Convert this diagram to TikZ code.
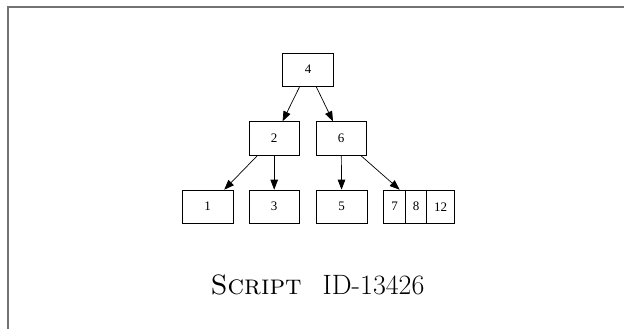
\documentclass[tikz,border=0pt]{standalone}
\usepackage{fontspec}
\newfontfamily\nodefont{Liberation Serif}
\usetikzlibrary{arrows.meta}
\begin{document}
\begin{tikzpicture}[x=1pt,y=-1pt,
  box/.style={draw=black,line width=0.7pt,minimum width=50.5pt,minimum height=33.3pt,inner sep=0pt,font=\nodefont\fontsize{13}{15}\selectfont},
  celltext/.style={inner sep=0pt,font=\nodefont\fontsize{13}{15}\selectfont},
  edge/.style={draw=black,line width=0.7pt,-{Triangle[length=10pt,width=7.5pt]}},
  frame/.style={draw={rgb,255:red,115;green,115;blue,115},line width=1.6pt}]
\useasboundingbox (0,0) rectangle (624,329);
\draw[frame] (8,340) -- (8,7) -- (640,7);
\node[box] (n4) at (308,69.7) {4};
\node[box] (n2) at (274.2,138.3) {2};
\node[box] (n6) at (341.2,138.3) {6};
\node[box] (n1) at (207.7,206.7) {1};
\node[box] (n3) at (274.2,206.7) {3};
\node[box] (n5) at (341.7,206.7) {5};
\node[box,minimum width=70.6pt] (rec) at (419,206.7) {};
\draw[line width=0.7pt] ([xshift=21.6pt]rec.north west) -- ([xshift=21.6pt]rec.south west);
\draw[line width=0.7pt] ([xshift=43pt]rec.north west) -- ([xshift=43pt]rec.south west);
\node[celltext] (c7) at (394.5,206.7) {7};
\node[celltext] (c8) at (416,206.7) {8};
\node[celltext] (c12) at (440.5,206.7) {12};
\draw[edge] (n4) -- (n2);
\draw[edge] (n4) -- (n6);
\draw[edge] (n2) -- (n1);
\draw[edge] (n2) -- (n3);
\draw[edge] (n6) -- (n5);
\draw[edge] (n6) -- (rec);
\node[inner sep=0pt,font=\fontsize{28}{32}\selectfont] (title) at (317.5,285) {\textsc{Script}\hspace{0.75em}ID-13426};
\end{tikzpicture}
\end{document}
